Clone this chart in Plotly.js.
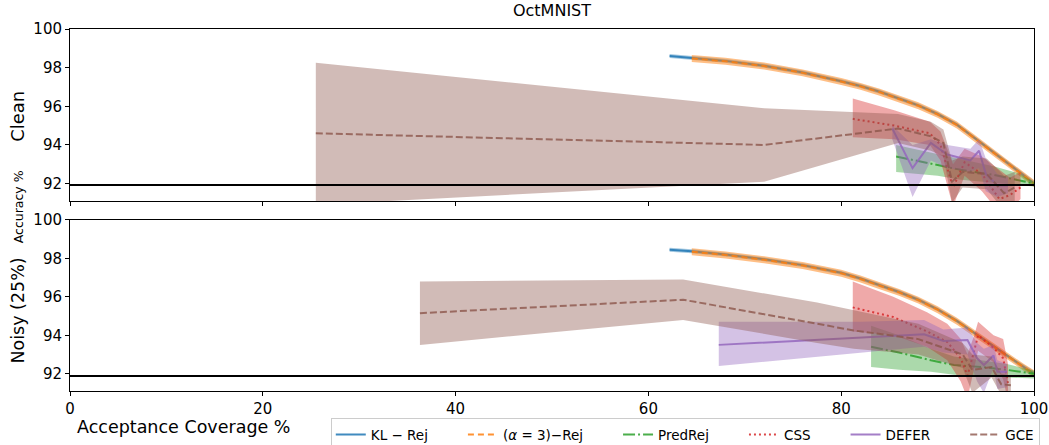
<!DOCTYPE html>
<html>
<head>
<meta charset="utf-8">
<script src="https://cdn.plot.ly/plotly-3.0.1.min.js"></script>
<style>html,body{margin:0;padding:0;background:#fff;}#chart{width:1049px;height:445px;}</style>
</head>
<body>
<div id="chart"></div>
<script>
// ---------- Data: Clean (top panel) ----------
const klCleanX   = [62.2, 64.5, 68, 72, 76, 80, 82, 84, 86, 88, 90, 92, 94, 96, 98, 99, 100];
const klCleanY   = [98.6, 98.5, 98.35, 98.1, 97.75, 97.3, 97.05, 96.75, 96.42, 96.05, 95.6, 95.05, 94.3, 93.55, 92.8, 92.4, 92.0];
const klCleanSd  = [0.1, 0.1, 0.1, 0.1, 0.1, 0.1, 0.1, 0.1, 0.1, 0.1, 0.1, 0.1, 0.1, 0.1, 0.1, 0.12, 0.14];
const alCleanX   = [64.5, 68, 72, 76, 80, 82, 84, 86, 88, 90, 92, 94, 96, 98, 99, 100];
const alCleanY   = [98.47, 98.33, 98.08, 97.73, 97.28, 97.03, 96.73, 96.4, 96.03, 95.58, 95.03, 94.28, 93.53, 92.78, 92.38, 92.0];
const alCleanSd  = [0.18, 0.18, 0.18, 0.18, 0.18, 0.18, 0.18, 0.18, 0.18, 0.18, 0.18, 0.18, 0.18, 0.18, 0.18, 0.18];
const prCleanX   = [85.7, 88, 90, 92.4, 95.8, 98.3, 100];
const prCleanY   = [93.4, 93.15, 92.97, 92.71, 92.45, 92.2, 92.0];
const prCleanHi  = [94.0, 93.75, 93.55, 93.25, 92.9, 92.55, 92.1];
const prCleanLo  = [92.6, 92.5, 92.4, 92.2, 92.05, 91.95, 91.85];
const cssCleanX  = [81.2, 85.5, 89.2, 90.3, 91.6, 92.8, 94.6, 96.4, 97.5, 98.6];
const cssCleanY  = [95.35, 95.0, 94.6, 94.0, 91.8, 93.1, 92.5, 91.2, 91.4, 91.8];
const cssCleanHi = [96.4, 95.8, 95.2, 94.7, 93.0, 93.8, 93.4, 92.7, 92.3, 92.6];
const cssCleanLo = [94.4, 94.3, 94.0, 93.2, 90.8, 92.4, 91.6, 90.5, 90.6, 91.2];
const dfCleanX   = [85.3, 87.4, 89.3, 91.0, 93.4, 94.3, 95.0, 96.2, 97.3];
const dfCleanY   = [94.85, 92.8, 94.1, 93.5, 93.2, 93.7, 92.5, 91.9, 91.9];
const dfCleanHi  = [95.0, 94.0, 94.3, 94.0, 93.8, 94.3, 93.3, 92.5, 92.3];
const dfCleanLo  = [94.3, 91.3, 93.2, 92.8, 92.6, 92.8, 91.6, 91.3, 91.5];
const gceCleanX  = [25.5, 72.0, 85.9, 89.3, 90.6, 91.5, 92.6, 95.1, 96.9, 98.0];
const gceCleanY  = [94.6, 94.0, 94.85, 94.45, 94.1, 92.1, 92.6, 92.5, 91.5, 91.8];
const gceCleanHi = [98.25, 95.9, 95.6, 95.2, 94.8, 93.2, 93.4, 93.3, 92.4, 92.6];
const gceCleanLo = [90.9, 92.1, 94.1, 93.7, 93.4, 91.0, 91.8, 91.7, 90.6, 91.0];
const baseClean  = 91.93;

// ---------- Data: Noisy 25% (bottom panel) ----------
const klNoisyX   = [62.2, 64.5, 68, 72, 76, 80, 82, 84, 86, 88, 90, 92, 94, 96, 98, 99, 100];
const klNoisyY   = [98.45, 98.37, 98.2, 97.95, 97.65, 97.25, 96.95, 96.6, 96.25, 95.85, 95.35, 94.75, 94.05, 93.35, 92.65, 92.33, 92.0];
const klNoisySd  = [0.1, 0.1, 0.1, 0.1, 0.1, 0.1, 0.1, 0.1, 0.1, 0.1, 0.1, 0.1, 0.1, 0.1, 0.1, 0.12, 0.14];
const alNoisyX   = [64.5, 68, 72, 76, 80, 82, 84, 86, 88, 90, 92, 94, 96, 98, 99, 100];
const alNoisyY   = [98.35, 98.18, 97.93, 97.63, 97.23, 96.93, 96.58, 96.23, 95.83, 95.33, 94.73, 94.03, 93.33, 92.63, 92.31, 92.0];
const alNoisySd  = [0.18, 0.18, 0.18, 0.18, 0.18, 0.18, 0.18, 0.18, 0.18, 0.18, 0.18, 0.18, 0.18, 0.18, 0.18, 0.18];
const prNoisyX   = [83.1, 86, 89.3, 91.7, 94.5, 97.2, 100];
const prNoisyY   = [93.4, 93.1, 92.7, 92.45, 92.35, 92.2, 92.0];
const prNoisyHi  = [94.5, 94.0, 93.3, 92.9, 92.7, 92.5, 92.15];
const prNoisyLo  = [92.35, 92.2, 92.1, 91.95, 91.9, 91.8, 91.75];
const cssNoisyX  = [81.2, 85.4, 88.9, 91.0, 92.4, 93.1, 93.8, 94.2, 95.8, 96.8, 97.3];
const cssNoisyY  = [95.45, 94.95, 94.2, 93.65, 92.8, 91.9, 93.2, 94.0, 93.35, 92.8, 91.5];
const cssNoisyHi = [96.8, 96.0, 95.2, 94.6, 93.8, 93.0, 94.0, 94.7, 94.0, 93.8, 92.5];
const cssNoisyLo = [94.2, 94.0, 93.4, 92.7, 91.6, 90.7, 92.3, 93.2, 92.6, 91.7, 90.6];
const dfNoisyX   = [67.3, 82.0, 88.6, 90.6, 93.1, 94.1, 94.8, 95.8, 96.2, 97.2];
const dfNoisyY   = [93.5, 93.9, 94.05, 93.7, 93.75, 92.8, 92.45, 92.95, 92.1, 92.1];
const dfNoisyHi  = [94.7, 94.7, 94.8, 94.3, 94.4, 93.6, 93.3, 93.5, 92.7, 92.5];
const dfNoisyLo  = [92.4, 93.1, 93.4, 93.1, 93.0, 91.6, 91.0, 92.3, 91.2, 91.3];
const gceNoisyX  = [36.3, 63.6, 77.5, 81.3, 88.0, 92.6, 93.6, 95.6, 96.6, 97.6];
const gceNoisyY  = [95.15, 95.85, 94.6, 94.25, 93.8, 93.0, 92.2, 92.35, 91.45, 91.4];
const gceNoisyHi = [96.8, 96.9, 95.7, 95.3, 94.6, 93.6, 93.0, 92.9, 92.0, 91.9];
const gceNoisyLo = [93.5, 94.8, 93.6, 93.3, 93.0, 92.3, 91.0, 91.8, 90.9, 90.9];
const baseNoisy  = 91.88;

// ---------- Labels ----------
const seriesNames = ['KL \u2212 Rej', '(<i>\u03b1</i> = 3)\u2212Rej', 'PredRej', 'CSS', 'DEFER', 'GCE'];
const xTicks = [0, 20, 40, 60, 80, 100];
const yTicks = [92, 94, 96, 98, 100];

// ---------- Styles ----------
const fills  = ['rgba(31,119,180,0.4)', 'rgba(255,127,14,0.5)', 'rgba(44,160,44,0.4)',
                'rgba(214,39,40,0.4)', 'rgba(148,103,189,0.4)', 'rgba(140,86,75,0.4)'];
const lineColors = ['rgba(31,119,180,0.85)', 'rgba(255,127,14,0.85)', 'rgba(44,160,44,0.85)',
                'rgba(214,39,40,0.85)', 'rgba(148,103,189,0.85)', 'rgba(140,86,75,0.8)'];
const dashes = ['solid', '6px,4px', '12px,3px,2px,3px', '2px,3px', 'solid', '7px,3px'];
const pad = '\u00a0'.repeat(7);

function sdBand(y, sd, sign) { return y.map((v, i) => v + sign * sd[i]); }

const panels = [
  { xa: 'x', ya: 'y', legend: true, series: [
    [klCleanX, klCleanY, sdBand(klCleanY, klCleanSd, -1), sdBand(klCleanY, klCleanSd, 1)],
    [alCleanX, alCleanY, sdBand(alCleanY, alCleanSd, -1), sdBand(alCleanY, alCleanSd, 1)],
    [prCleanX, prCleanY, prCleanLo, prCleanHi],
    [cssCleanX, cssCleanY, cssCleanLo, cssCleanHi],
    [dfCleanX, dfCleanY, dfCleanLo, dfCleanHi],
    [gceCleanX, gceCleanY, gceCleanLo, gceCleanHi]
  ]},
  { xa: 'x2', ya: 'y2', legend: false, series: [
    [klNoisyX, klNoisyY, sdBand(klNoisyY, klNoisySd, -1), sdBand(klNoisyY, klNoisySd, 1)],
    [alNoisyX, alNoisyY, sdBand(alNoisyY, alNoisySd, -1), sdBand(alNoisyY, alNoisySd, 1)],
    [prNoisyX, prNoisyY, prNoisyLo, prNoisyHi],
    [cssNoisyX, cssNoisyY, cssNoisyLo, cssNoisyHi],
    [dfNoisyX, dfNoisyY, dfNoisyLo, dfNoisyHi],
    [gceNoisyX, gceNoisyY, gceNoisyLo, gceNoisyHi]
  ]}
];

const traces = [];
panels.forEach(p => {
  p.series.forEach((s, i) => {
    const [x, y, lo, hi] = s;
    traces.push({ x: x, y: lo, xaxis: p.xa, yaxis: p.ya, mode: 'lines', line: { width: 0 },
      showlegend: false, hoverinfo: 'skip' });
    traces.push({ x: x, y: hi, xaxis: p.xa, yaxis: p.ya, mode: 'lines', line: { width: 0 },
      fill: 'tonexty', fillcolor: fills[i], showlegend: false, hoverinfo: 'skip' });
    traces.push({ x: x, y: y, xaxis: p.xa, yaxis: p.ya, mode: 'lines',
      name: seriesNames[i] + (i < seriesNames.length - 1 ? pad : ''),
      legendgroup: 'g' + i, showlegend: p.legend,
      line: { color: lineColors[i], width: 2, dash: dashes[i] } });
  });
});

const axFont = { family: 'DejaVu Sans', size: 15, color: '#000' };
const xCommon = { range: [0, 100], tickvals: xTicks, ticks: 'outside', ticklen: 4, tickwidth: 1,
  tickcolor: '#000', showline: true, linecolor: '#000', linewidth: 1, mirror: true,
  showgrid: false, zeroline: false, tickfont: axFont };
const yCommon = { range: [91.1, 100], tickvals: yTicks, ticks: 'outside', ticklen: 4, tickwidth: 1,
  tickcolor: '#000', showline: true, linecolor: '#000', linewidth: 1, mirror: true,
  showgrid: false, zeroline: false, tickfont: axFont };

const layout = {
  width: 1049, height: 445,
  margin: { l: 70, r: 15, t: 29, b: 54, autoexpand: false },
  paper_bgcolor: '#fff', plot_bgcolor: '#fff',
  font: { family: 'DejaVu Sans', color: '#000' },
  title: { text: 'OctMNIST', x: 0.5, xref: 'paper', xanchor: 'center', y: 0.977, yanchor: 'middle',
    font: { family: 'DejaVu Sans', size: 16, color: '#000' } },
  xaxis: Object.assign({}, xCommon, { anchor: 'y', showticklabels: false }),
  yaxis: Object.assign({}, yCommon, { domain: [0.525, 1], anchor: 'x' }),
  xaxis2: Object.assign({}, xCommon, { anchor: 'y2' }),
  yaxis2: Object.assign({}, yCommon, { domain: [0, 0.4725], anchor: 'x2' }),
  showlegend: true,
  legend: { orientation: 'h', x: 1.006, xanchor: 'right', y: -0.075, yanchor: 'top',
    bgcolor: '#fff', bordercolor: '#cccccc', borderwidth: 1,
    font: { family: 'DejaVu Sans', size: 13.5, color: '#000' }, itemwidth: 30,
    tracegroupgap: 0 },
  shapes: [
    { type: 'line', xref: 'x domain', yref: 'y', x0: 0, x1: 1, y0: baseClean, y1: baseClean,
      line: { color: '#000', width: 2 } },
    { type: 'line', xref: 'x2 domain', yref: 'y2', x0: 0, x1: 1, y0: baseNoisy, y1: baseNoisy,
      line: { color: '#000', width: 2 } }
  ],
  annotations: [
    { text: 'Acceptance Coverage %', xref: 'paper', yref: 'paper', x: 0.005, y: -0.1,
      xanchor: 'left', yanchor: 'middle', showarrow: false,
      font: { family: 'DejaVu Sans', size: 17.5, color: '#000' } },
    { text: 'Clean', xref: 'paper', yref: 'paper', x: -0.054, y: 0.76, textangle: -90,
      xanchor: 'center', yanchor: 'middle', showarrow: false,
      font: { family: 'DejaVu Sans', size: 18, color: '#000' } },
    { text: 'Accuracy %', xref: 'paper', yref: 'paper', x: -0.054, y: 0.51, textangle: -90,
      xanchor: 'center', yanchor: 'middle', showarrow: false,
      font: { family: 'DejaVu Sans', size: 12.5, color: '#000' } },
    { text: 'Noisy (25%)', xref: 'paper', yref: 'paper', x: -0.054, y: 0.222, textangle: -90,
      xanchor: 'center', yanchor: 'middle', showarrow: false,
      font: { family: 'DejaVu Sans', size: 17.5, color: '#000' } }
  ]
};

Plotly.newPlot('chart', traces, layout, { displayModeBar: false, staticPlot: true });
</script>
</body>
</html>
